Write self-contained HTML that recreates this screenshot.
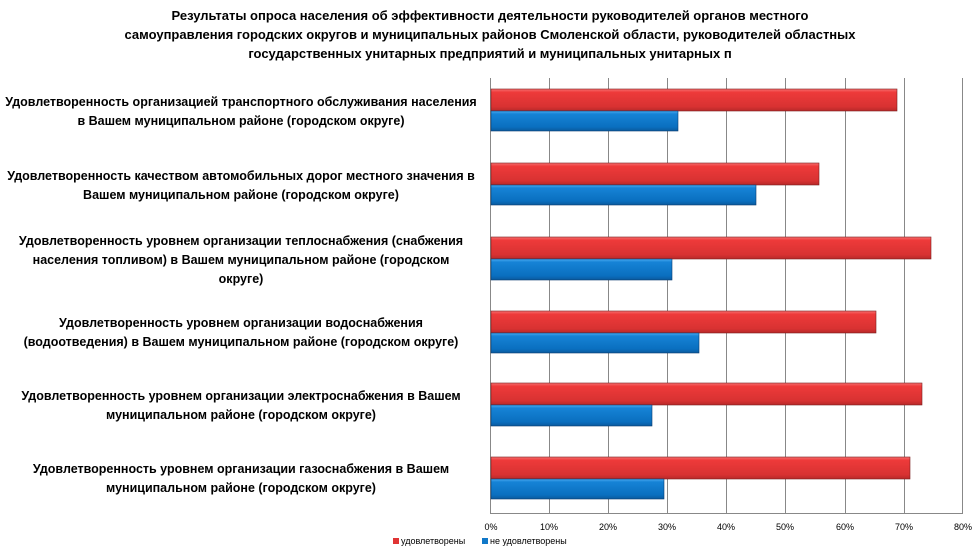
<!DOCTYPE html>
<html><head><meta charset="utf-8"><style>
body{margin:0;background:#fff;width:979px;height:552px;overflow:hidden;font-family:"Liberation Sans","DejaVu Sans",sans-serif;}
</style></head><body>
<svg width="979" height="552" xmlns="http://www.w3.org/2000/svg" font-family="Liberation Sans, DejaVu Sans, sans-serif">
<defs>
<linearGradient id="r" x1="0" y1="0" x2="0" y2="1"><stop offset="0" stop-color="#f57070"/><stop offset="0.15" stop-color="#ee3a3a"/><stop offset="0.8" stop-color="#d83232"/><stop offset="1" stop-color="#b82828"/></linearGradient>
<linearGradient id="b" x1="0" y1="0" x2="0" y2="1"><stop offset="0" stop-color="#4aaaf0"/><stop offset="0.15" stop-color="#1683d6"/><stop offset="0.8" stop-color="#0a6fbf"/><stop offset="1" stop-color="#0a5a9e"/></linearGradient>
</defs>
<g font-size="13" font-weight="bold" text-anchor="middle" fill="#000">
<text x="490" y="20">Результаты опроса населения об эффективности деятельности руководителей органов местного</text>
<text x="490" y="39">самоуправления городских округов и муниципальных районов Смоленской области, руководителей областных</text>
<text x="490" y="58">государственных унитарных предприятий и муниципальных унитарных п</text>
</g>
<g stroke="#888" stroke-width="1">
<line x1="549.5" y1="78" x2="549.5" y2="513"/><line x1="608.5" y1="78" x2="608.5" y2="513"/>
<line x1="667.5" y1="78" x2="667.5" y2="513"/><line x1="726.5" y1="78" x2="726.5" y2="513"/>
<line x1="785.5" y1="78" x2="785.5" y2="513"/><line x1="845.5" y1="78" x2="845.5" y2="513"/>
<line x1="904.5" y1="78" x2="904.5" y2="513"/><line x1="962.5" y1="78" x2="962.5" y2="513"/>
<line x1="490.5" y1="78" x2="490.5" y2="513"/><line x1="490" y1="513.5" x2="963" y2="513.5"/>
</g>
<g stroke="#7a1e1e" stroke-width="0.6">
<rect x="491" y="89" width="406" height="22" fill="url(#r)"/>
<rect x="491" y="163" width="328" height="22" fill="url(#r)"/>
<rect x="491" y="237" width="440" height="22" fill="url(#r)"/>
<rect x="491" y="311" width="385" height="22" fill="url(#r)"/>
<rect x="491" y="383" width="431" height="22" fill="url(#r)"/>
<rect x="491" y="457" width="419" height="22" fill="url(#r)"/>
</g>
<g stroke="#0a3d6e" stroke-width="0.6">
<rect x="491" y="111" width="187" height="20" fill="url(#b)"/>
<rect x="491" y="185" width="265" height="20" fill="url(#b)"/>
<rect x="491" y="259" width="181" height="21" fill="url(#b)"/>
<rect x="491" y="333" width="208" height="20" fill="url(#b)"/>
<rect x="491" y="405" width="161" height="21" fill="url(#b)"/>
<rect x="491" y="479" width="173" height="20" fill="url(#b)"/>
</g>
<g font-size="12.5" font-weight="bold" text-anchor="middle" fill="#000">
<text x="241" y="106">Удовлетворенность организацией транспортного обслуживания населения</text>
<text x="241" y="125">в Вашем муниципальном районе (городском округе)</text>
<text x="241" y="180">Удовлетворенность качеством автомобильных дорог местного значения в</text>
<text x="241" y="199">Вашем муниципальном районе (городском округе)</text>
<text x="241" y="245">Удовлетворенность уровнем организации теплоснабжения (снабжения</text>
<text x="241" y="264">населения топливом) в Вашем муниципальном районе (городском</text>
<text x="241" y="283">округе)</text>
<text x="241" y="327">Удовлетворенность уровнем организации водоснабжения</text>
<text x="241" y="346">(водоотведения) в Вашем муниципальном районе (городском округе)</text>
<text x="241" y="400">Удовлетворенность уровнем организации электроснабжения в Вашем</text>
<text x="241" y="419">муниципальном районе (городском округе)</text>
<text x="241" y="473">Удовлетворенность уровнем организации газоснабжения в Вашем</text>
<text x="241" y="492">муниципальном районе (городском округе)</text>
</g>
<g font-size="9" text-anchor="middle" fill="#000">
<text x="491" y="530">0%</text><text x="549" y="530">10%</text><text x="608" y="530">20%</text>
<text x="667" y="530">30%</text><text x="726" y="530">40%</text><text x="785" y="530">50%</text>
<text x="845" y="530">60%</text><text x="904" y="530">70%</text><text x="963" y="530">80%</text>
</g>
<rect x="393" y="538" width="6" height="6" fill="#e03434"/>
<text x="401" y="544" font-size="9">удовлетворены</text>
<rect x="482" y="538" width="6" height="6" fill="#1178c8"/>
<text x="490" y="544" font-size="9">не удовлетворены</text>
</svg>
</body></html>
